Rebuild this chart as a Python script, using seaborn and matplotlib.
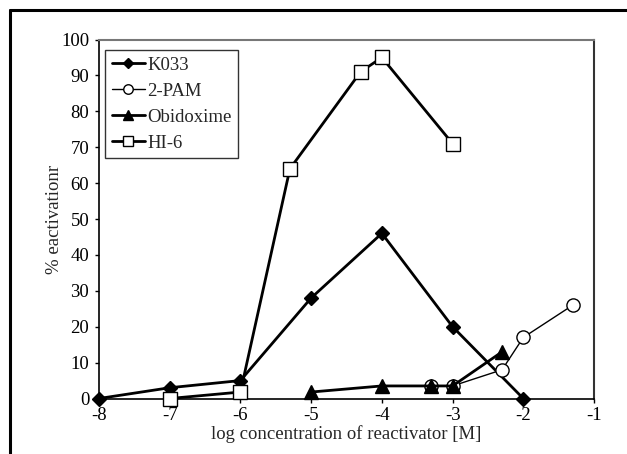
import matplotlib
matplotlib.use("Agg")
import matplotlib.pyplot as plt
import seaborn as sns
import pandas as pd
from matplotlib.lines import Line2D

sns.set_theme(style="white")
plt.rcParams['font.family'] = ['Liberation Serif', 'DejaVu Serif']

# data
k033_x = [-8, -7, -6, -5, -4, -3, -2]
k033_y = [0, 3, 5, 28, 46, 20, 0]
pam_x = [-3.3, -3, -2.3, -2, -1.3]
pam_y = [3.5, 3.5, 8, 17, 26]
obi_x = [-5, -4, -3.3, -3, -2.3]
obi_y = [1.8, 3.5, 3.5, 3.5, 13]
hi6_x = [-7, -6, -5.3, -4.3, -4, -3]
hi6_y = [0, 1.8, 64, 91, 95, 71]
x_ticks = [-8, -7, -6, -5, -4, -3, -2, -1]
y_ticks = [0, 10, 20, 30, 40, 50, 60, 70, 80, 90, 100]

FS = 13.5

fig = plt.figure(figsize=(6.27, 4.54), dpi=100)
ax = fig.add_axes([99/627, 1 - 398.5/454, (594-99)/627, (398.5-39.5)/454])

series = [
    ("K033", k033_x, k033_y, "D", "black", 2.0, 7.5),
    ("2-PAM", pam_x, pam_y, "o", "white", 1.0, 9.5),
    ("Obidoxime", obi_x, obi_y, "^", "black", 2.0, 9.5),
    ("HI-6", hi6_x, hi6_y, "s", "white", 2.0, 9.5),
]
handles = []
for name, xs, ys, mk, fc, lw, ms in series:
    df = pd.DataFrame({"x": xs, "y": ys})
    sns.lineplot(data=df, x="x", y="y", ax=ax, color="black", linewidth=lw,
                 marker=mk, markersize=ms, markerfacecolor=fc,
                 markeredgecolor="black", markeredgewidth=1.0, sort=False,
                 clip_on=False, zorder=3)
    handles.append(Line2D([], [], color="black", linewidth=lw, marker=mk,
                          markersize=ms * 0.72, markerfacecolor=fc,
                          markeredgecolor="black", label=name))

ax.set_xlim(-8, -1)
ax.set_ylim(0, 100)
ax.set_xticks(x_ticks)
ax.set_yticks(y_ticks)
ax.set_xticklabels([str(t) for t in x_ticks])
ax.set_yticklabels([str(t) for t in y_ticks])
ax.tick_params(axis="both", labelsize=FS, colors="black")
ax.tick_params(axis="y", length=3, width=1, direction="out", left=True, pad=4)
ax.tick_params(axis="x", length=3, width=1, direction="out", bottom=True, pad=3)
ax.set_xlabel("log concentration of reactivator [M]", fontsize=FS, labelpad=1)
ax.set_ylabel("% eactivationr", fontsize=FS, labelpad=-1)

for s in ["left", "bottom"]:
    ax.spines[s].set_color("black")
    ax.spines[s].set_linewidth(1.2)
ax.spines["top"].set_color("#777777")
ax.spines["top"].set_linewidth(1.5)
ax.spines["right"].set_color("#333333")
ax.spines["right"].set_linewidth(1.5)

leg = ax.legend(handles=handles, loc="upper left", bbox_to_anchor=(0.012, 0.97),
                frameon=True, fancybox=False, edgecolor="black", fontsize=FS,
                handlelength=1.8, handletextpad=0.1, borderpad=0.35,
                labelspacing=0.47, borderaxespad=0)
leg.get_frame().set_linewidth(1.0)

# outer frame (left and top visible)
fig.add_artist(Line2D([10/627, 10/627], [0, 1 - 10/454], transform=fig.transFigure,
                      color="black", linewidth=2.2))
fig.add_artist(Line2D([10/627, 1], [1 - 10/454, 1 - 10/454], transform=fig.transFigure,
                      color="black", linewidth=2.2))

fig.savefig("out.png", dpi=100)
